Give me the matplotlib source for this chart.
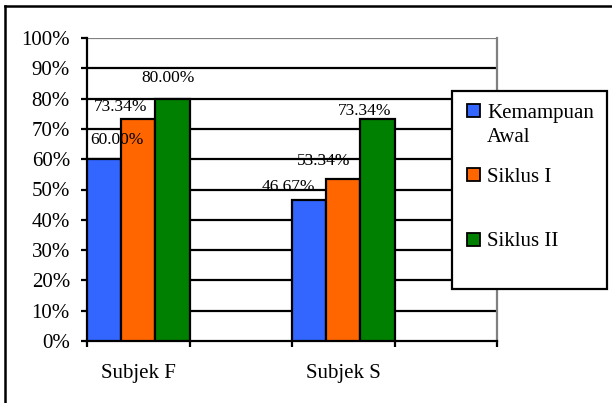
import matplotlib
matplotlib.use("Agg")
import matplotlib.pyplot as plt
from matplotlib.patches import Rectangle

plt.rcParams["font.family"] = ["Liberation Serif", "DejaVu Serif"]

# Data
subjects = ["Subjek F", "Subjek S"]
series_names = ["Kemampuan\nAwal", "Siklus I", "Siklus II"]
kemampuan_awal = [60.00, 46.67]
siklus_1 = [73.34, 53.34]
siklus_2 = [80.00, 73.34]
y_ticks = [0, 10, 20, 30, 40, 50, 60, 70, 80, 90, 100]
colors = ["#3366FF", "#FF6600", "#008000"]

# label offsets (pixels) relative to each bar top
label_offsets = [
    [(13, 19), (-20.5, 13)],
    [(-18, 12), (-19.5, 18)],
    [(-4, 21), (-12.5, 8)],
]

W, H = 612, 403
fig = plt.figure(figsize=(W / 100, H / 100), dpi=100)

def px(x0, y0, x1, y1):
    return [x0 / W, 1 - y1 / H, (x1 - x0) / W, (y1 - y0) / H]

ax = fig.add_axes(px(87, 38, 497, 341))
ax.set_xlim(0, 4)
ax.set_ylim(0, 100)

# gridlines
for t in y_ticks[1:-1]:
    ax.axhline(t, color="black", lw=1.6, zorder=1)
ax.axhline(100, color="#808080", lw=1.6, zorder=1)

series = [kemampuan_awal, siklus_1, siklus_2]
bw = 1 / 3
group_x = [0, 2]
for i, vals in enumerate(series):
    xs = [g + i * bw for g in group_x]
    ax.bar(xs, vals, width=bw, align="edge", color=colors[i],
           edgecolor="black", linewidth=1.6, zorder=3)
    for j, v in enumerate(vals):
        dx, dy = label_offsets[i][j]
        ax.annotate(f"{v:.2f}%", xy=(xs[j] + bw / 2, v),
                    xytext=(dx, dy), textcoords="offset pixels",
                    ha="center", va="center", fontsize=12.5, zorder=5)

ax.spines["top"].set_visible(False)
ax.spines["right"].set_color("#808080")
ax.spines["right"].set_linewidth(1.6)
ax.spines["left"].set_linewidth(1.6)
ax.spines["bottom"].set_linewidth(1.6)

ax.set_yticks(y_ticks)
ax.set_yticklabels([f"{t}%" for t in y_ticks], fontsize=15)
ax.tick_params(axis="y", length=4.3, width=1.6, pad=8)
ax.set_xticks([0, 1, 2, 3, 4])
ax.set_xticklabels([])
ax.tick_params(axis="x", length=4.3, width=1.6, direction="out")
for j, name in enumerate(subjects):
    ax.text(group_x[j] + 0.5, -0.107, name, transform=ax.get_xaxis_transform(),
            ha="center", va="center", fontsize=15)

# outer frame (left and top edges)
fig.add_artist(plt.Line2D([5 / W, 5 / W], [0, 1 - 6 / H], color="black", lw=1.8,
                          transform=fig.transFigure))
fig.add_artist(plt.Line2D([5 / W, 1], [1 - 6 / H, 1 - 6 / H], color="black", lw=1.8,
                          transform=fig.transFigure))

# legend box
lx0, ly0, lx1, ly1 = 452, 91, 607, 289
fig.add_artist(Rectangle((lx0 / W, 1 - ly1 / H), (lx1 - lx0) / W, (ly1 - ly0) / H,
                         transform=fig.transFigure, facecolor="white",
                         edgecolor="black", lw=1.6, zorder=10))
entry_y = [110, 174, 239]
entry_baseline = [118, 182, 246]
for i, name in enumerate(series_names):
    yc = entry_y[i]
    fig.add_artist(Rectangle((467 / W, 1 - (yc + 6.5) / H), 13 / W, 13 / H,
                             transform=fig.transFigure, facecolor=colors[i],
                             edgecolor="black", lw=1.3, zorder=11))
    for k, line in enumerate(name.split("\n")):
        fig.text(487 / W, 1 - (entry_baseline[i] + 24 * k) / H, line,
                 ha="left", va="baseline", fontsize=15, zorder=12)

fig.savefig("out.png", dpi=100)
